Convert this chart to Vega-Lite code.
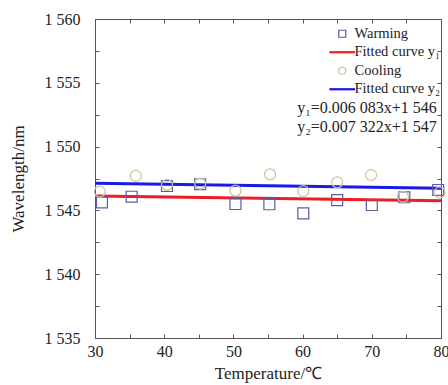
{
  "$schema": "https://vega.github.io/schema/vega-lite/v6.json",
  "width": 346,
  "height": 319,
  "autosize": "none",
  "padding": {"left": 95, "top": 19, "right": 7, "bottom": 47},
  "background": "white",
  "config": {
    "font": "Liberation Serif",
    "view": {"stroke": "#555555", "strokeWidth": 1},
    "axis": {"labelFont": "Liberation Serif", "titleFont": "Liberation Serif", "labelFontSize": 16, "titleFontSize": 17, "titleFontWeight": "normal", "labelColor": "#222", "titleColor": "#222", "grid": false, "domain": false, "tickColor": "#555", "tickSize": -4}
  },
  "resolve": {"axis": {"x": "independent", "y": "independent"}},
  "datasets": {
    "pts": [
      {"series": "Warming", "T": 31, "wl": 1545.63},
      {"series": "Warming", "T": 35.3, "wl": 1546.07},
      {"series": "Warming", "T": 40.4, "wl": 1546.91},
      {"series": "Warming", "T": 45.2, "wl": 1547.05},
      {"series": "Warming", "T": 50.3, "wl": 1545.5},
      {"series": "Warming", "T": 55.2, "wl": 1545.48},
      {"series": "Warming", "T": 60.1, "wl": 1544.77},
      {"series": "Warming", "T": 65, "wl": 1545.81},
      {"series": "Warming", "T": 70, "wl": 1545.42},
      {"series": "Warming", "T": 74.7, "wl": 1546.03},
      {"series": "Warming", "T": 79.6, "wl": 1546.6},
      {"series": "Cooling", "T": 30.7, "wl": 1546.47},
      {"series": "Cooling", "T": 35.9, "wl": 1547.7},
      {"series": "Cooling", "T": 40.4, "wl": 1547.0},
      {"series": "Cooling", "T": 45.2, "wl": 1547.1},
      {"series": "Cooling", "T": 50.3, "wl": 1546.55},
      {"series": "Cooling", "T": 55.3, "wl": 1547.82},
      {"series": "Cooling", "T": 60.1, "wl": 1546.52},
      {"series": "Cooling", "T": 65, "wl": 1547.2},
      {"series": "Cooling", "T": 69.9, "wl": 1547.77},
      {"series": "Cooling", "T": 74.5, "wl": 1546.07},
      {"series": "Cooling", "T": 79.8, "wl": 1546.4}
    ],
    "fit1": [
      {"T": 30, "wl": 1546.13},
      {"T": 80, "wl": 1545.76}
    ],
    "fit2": [
      {"T": 30, "wl": 1547.12},
      {"T": 80, "wl": 1546.73}
    ],
    "eq": [
      {"label": "y₁=0.006 083x+1 546", "T": 79.4, "wl": 1553.02},
      {"label": "y₂=0.007 322x+1 547", "T": 79.4, "wl": 1551.54}
    ]
  },
  "layer": [
    {
      "data": {"name": "fit1"},
      "mark": {"type": "line", "color": "#ee1c24", "strokeWidth": 3, "clip": true},
      "encoding": {
        "x": {"field": "T", "type": "quantitative", "scale": {"domain": [30, 80], "nice": false}, "axis": {"values": [30, 35, 40, 45, 50, 55, 60, 65, 70, 75, 80], "labelExpr": "datum.value % 10 === 0 ? datum.value : ''", "title": "Temperature/℃", "labelPadding": 9, "titlePadding": 6, "labelFlush": false}},
        "y": {"field": "wl", "type": "quantitative", "scale": {"domain": [1535, 1560], "nice": false, "zero": false}, "axis": {"values": [1535, 1537.5, 1540, 1542.5, 1545, 1547.5, 1550, 1552.5, 1555, 1557.5, 1560], "labelExpr": "datum.value % 5 === 0 ? replace(format(datum.value, ','), ',', ' ') : ''", "title": "Wavelength/nm", "labelPadding": 19, "titlePadding": 17}}
      }
    },
    {
      "data": {"name": "fit2"},
      "mark": {"type": "line", "color": "#1a1ae8", "strokeWidth": 3, "clip": true},
      "encoding": {
        "x": {"field": "T", "type": "quantitative", "axis": {"orient": "top", "values": [30, 35, 40, 45, 50, 55, 60, 65, 70, 75, 80], "labels": false, "title": null}},
        "y": {"field": "wl", "type": "quantitative", "axis": {"orient": "right", "values": [1535, 1537.5, 1540, 1542.5, 1545, 1547.5, 1550, 1552.5, 1555, 1557.5, 1560], "labels": false, "title": null}}
      }
    },
    {
      "data": {"name": "pts"},
      "mark": {"type": "point", "filled": false, "size": 120, "strokeWidth": 1.2, "opacity": 1},
      "encoding": {
        "x": {"field": "T", "type": "quantitative", "axis": null},
        "y": {"field": "wl", "type": "quantitative", "axis": null},
        "color": {"field": "series", "type": "nominal", "scale": {"domain": ["Warming", "Fitted curve y₁", "Cooling", "Fitted curve y₂"], "range": ["#5c5ca0", "#ee1c24", "#cbc49a", "#1a1ae8"]}, "legend": {"title": null, "orient": "none", "legendX": 240, "legendY": 7.5, "padding": 0, "labelFont": "Liberation Serif", "labelFontSize": 14.5, "labelColor": "#222", "labelLimit": 200, "symbolStrokeWidth": 1.2, "symbolSize": 49, "rowPadding": 3.5, "labelOffset": 5}},
        "shape": {"field": "series", "type": "nominal", "scale": {"domain": ["Warming", "Fitted curve y₁", "Cooling", "Fitted curve y₂"], "range": ["M-1,-1H1V1H-1Z", "M-3.5,-0.15H3.5V0.15H-3.5Z", "circle", "M-3.5,-0.15H3.5V0.15H-3.5Z"]}}
      }
    },
    {
      "data": {"name": "eq"},
      "mark": {"type": "text", "align": "right", "baseline": "middle", "font": "Liberation Serif", "fontSize": 16, "color": "#222"},
      "encoding": {
        "x": {"field": "T", "type": "quantitative", "axis": null},
        "y": {"field": "wl", "type": "quantitative", "axis": null},
        "text": {"field": "label"}
      }
    }
  ]
}
